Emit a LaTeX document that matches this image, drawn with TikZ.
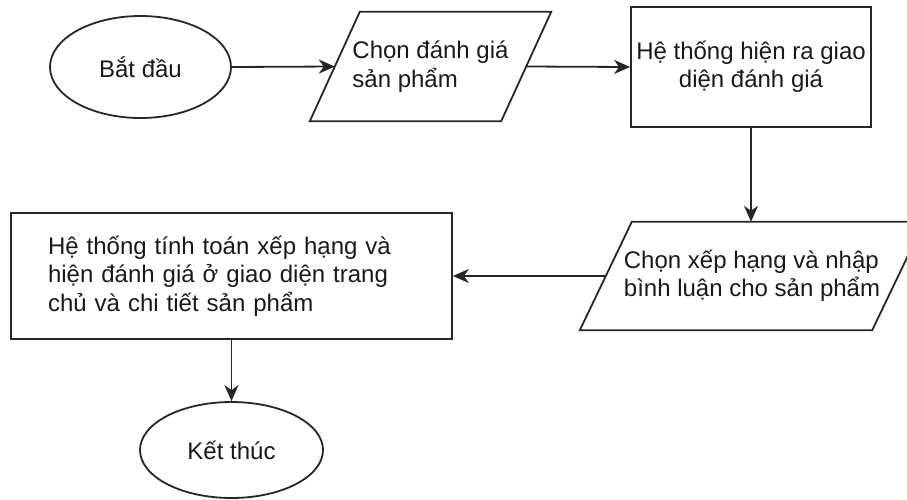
\documentclass[tikz,border=0pt]{standalone}
\usepackage{fontspec}
\setmainfont{Liberation Sans}
\usetikzlibrary{shapes.geometric,arrows.meta}
\begin{document}
\begin{tikzpicture}[x=1pt,y=-1pt,
  every node/.style={font=\fontsize{24}{28.5}\selectfont, text=black!90},
  outline/.style={draw=black!85, line width=1.8pt},
  terminal/.style={outline, ellipse, inner sep=0pt},
  process/.style={outline, rectangle, inner sep=0pt, align=center},
  % body of a data (parallelogram) step: its west/east anchors sit on the slanted sides
  iobody/.style={rectangle, inner sep=0pt, align=left},
  flow/.style={draw=black!85, line width=1.8pt, -{Stealth[length=16pt,width=14pt,inset=5pt]}}
]
\useasboundingbox (0,0) rectangle (907,499);
\clip (0,0) rectangle (907,499);

% start / end terminals
\node[terminal, minimum width=181pt, minimum height=102pt] (start) at (140.5,67) {Bắt đầu};
\node[terminal, minimum width=183pt, minimum height=96pt] (finish) at (231.5,450) {Kết thúc};

% input steps (parallelograms, slant of 50pt and 52pt)
\node[iobody, minimum width=191pt, minimum height=109pt] (choose) at (430.5,66.5)
      {Chọn đánh giá\\sản phẩm};
\draw[outline, line join=miter]
  ([xshift=25pt]choose.north west) -- ([xshift=25pt]choose.north east)
  -- ([xshift=-25pt]choose.south east) -- ([xshift=-25pt]choose.south west) -- cycle;

\node[iobody, minimum width=292pt, minimum height=108pt] (rate) at (752,276)
      {Chọn xếp hạng và nhập\\bình luận cho sản phẩm};
\draw[outline, line join=miter]
  ([xshift=26pt]rate.north west) -- ([xshift=26pt]rate.north east)
  -- ([xshift=-26pt]rate.south east) -- ([xshift=-26pt]rate.south west) -- cycle;

% processing steps
\node[process, minimum width=240pt, minimum height=120pt] (show) at (751,67)
      {Hệ thống hiện ra giao\\diện đánh giá};
\node[process, minimum width=441pt, minimum height=126pt, text width=367pt, align=left] (compute) at (231.5,276)
      {Hệ thống tính toán xếp hạng và\\hiện đánh giá ở giao diện trang\\chủ và chi tiết sản phẩm};

% flow
\draw[flow] (start.east) -- (choose.west);
\draw[flow] (choose.east) -- (show.west);
\draw[flow] (show.south) -- (show.south |- rate.north);
\draw[flow] (rate.west) -- (compute.east);
\draw[flow] (compute.south) -- (finish.north);
\end{tikzpicture}
\end{document}
